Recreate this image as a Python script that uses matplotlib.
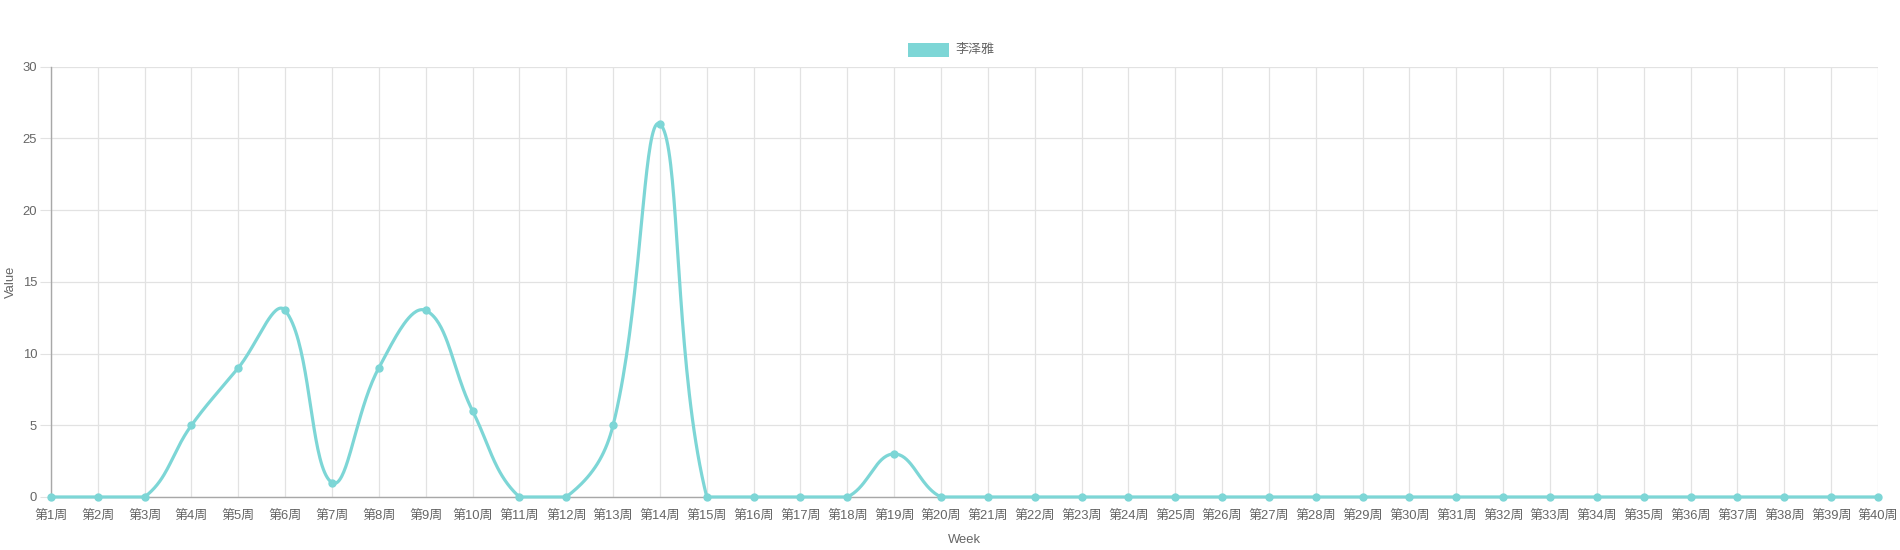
import numpy as np
import matplotlib
matplotlib.use('Agg')
import matplotlib.pyplot as plt
from matplotlib.patches import Rectangle

plt.rcParams['font.family'] = ['Liberation Sans', 'Noto Sans CJK SC', 'DejaVu Sans']

weeks = ['第%d周' % i for i in range(1, 41)]
values = [0, 0, 0, 5, 9, 13, 1, 9, 13, 6,
          0, 0, 5, 26, 0, 0, 0, 0, 3, 0,
          0, 0, 0, 0, 0, 0, 0, 0, 0, 0,
          0, 0, 0, 0, 0, 0, 0, 0, 0, 0]
series_name = '李泽雅'
color = '#7dd6d6'
tick_color = '#666666'
fs = 9.4


def spline_points(px, py, tension=0.4):
    # chart.js style control points, in pixel space
    n = len(px)
    cps = []
    for i in range(n):
        p0 = (px[max(i - 1, 0)], py[max(i - 1, 0)])
        p1 = (px[i], py[i])
        p2 = (px[min(i + 1, n - 1)], py[min(i + 1, n - 1)])
        d01 = np.hypot(p1[0] - p0[0], p1[1] - p0[1])
        d12 = np.hypot(p2[0] - p1[0], p2[1] - p1[1])
        s01 = d01 / (d01 + d12) if d01 + d12 else 0
        s12 = d12 / (d01 + d12) if d01 + d12 else 0
        fa = tension * s01
        fb = tension * s12
        prev_cp = (p1[0] - fa * (p2[0] - p0[0]), p1[1] - fa * (p2[1] - p0[1]))
        next_cp = (p1[0] + fb * (p2[0] - p0[0]), p1[1] + fb * (p2[1] - p0[1]))
        cps.append((prev_cp, next_cp))
    return cps


fig = plt.figure(figsize=(19, 5.5), dpi=100)
ax = fig.add_axes([0.0268, 0.0964, 0.9616, 0.7826])
x = np.arange(len(weeks))
ax.set_xlim(0, len(weeks) - 1)
ax.set_ylim(0, 30)

# curve in display coordinates
disp = ax.transData.transform(np.column_stack([x, values]))
cps = spline_points(disp[:, 0], disp[:, 1])
bb = ax.bbox
lo_x, hi_x, lo_y, hi_y = bb.x0, bb.x1, bb.y0, bb.y1
clip = lambda p: (min(max(p[0], lo_x), hi_x), min(max(p[1], lo_y), hi_y))
cps = [(clip(a), clip(b)) for a, b in cps]
t = np.linspace(0, 1, 40)[:, None]
pts = []
for i in range(len(x) - 1):
    P0 = disp[i]
    P1 = np.array(cps[i][1])
    P2 = np.array(cps[i + 1][0])
    P3 = disp[i + 1]
    seg = ((1 - t) ** 3) * P0 + 3 * ((1 - t) ** 2) * t * P1 + 3 * (1 - t) * t ** 2 * P2 + t ** 3 * P3
    pts.append(seg)
pts = np.vstack(pts)
curve = ax.transData.inverted().transform(pts)
ax.plot(curve[:, 0], curve[:, 1], color=color, lw=2.3, solid_capstyle='round', zorder=3, clip_on=False)
ax.plot(x, values, 'o', color=color, ms=5, zorder=4, clip_on=False)

ax.set_xticks(x)
ax.set_xticklabels(weeks)
ax.set_yticks(np.arange(0, 31, 5))
ax.grid(True, color='#e2e2e2', lw=0.9)
ax.set_axisbelow(True)
for s in ['top', 'right']:
    ax.spines[s].set_visible(False)
for s in ['left', 'bottom']:
    ax.spines[s].set_color('#a8a8a8')
    ax.spines[s].set_linewidth(1)
ax.tick_params(axis='y', length=8, color='#e2e2e2', labelsize=fs, labelcolor=tick_color, pad=2)
ax.tick_params(axis='x', length=0, labelsize=fs, labelcolor=tick_color, pad=9)
ax.set_xlabel('Week', fontsize=fs, color=tick_color, labelpad=9)
fig.text(11 / 1900, 0.4877, 'Value', rotation=90, fontsize=fs, color=tick_color,
         ha='center', va='center')

# legend
fig.patches.append(Rectangle((908 / 1900, 1 - 57 / 550), 41 / 1900, 14 / 550,
                             transform=fig.transFigure, facecolor=color, edgecolor='none'))
fig.text(955 / 1900, 1 - 50 / 550, series_name, fontsize=fs, color=tick_color, va='center', ha='left')

fig.savefig('out.png', dpi=100, facecolor='white')
